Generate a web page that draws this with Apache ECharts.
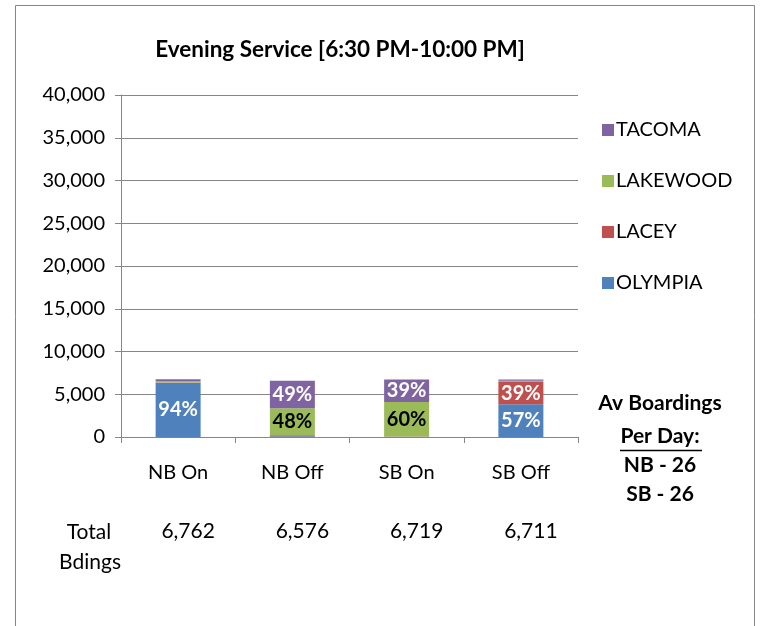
<!DOCTYPE html>
<html>
<head>
<meta charset="utf-8">
<script src="https://cdn.jsdelivr.net/npm/echarts@6/dist/echarts.min.js"></script>
<style>
  html, body { margin: 0; padding: 0; background: #fff; }
  #chart { width: 768px; height: 626px; }
</style>
</head>
<body>
<div id="chart"></div>
<script>
var categories = ["NB On", "NB Off", "SB On", "SB Off"];
var olympia = [6356, 90, 40, 3825];
var lacey = [30, 108, 28, 2617];
var lakewood = [150, 3156, 4031, 140];
var tacoma = [226, 3222, 2620, 129];
var olympiaPct = ["94%", "", "", "57%"];
var laceyPct = ["", "", "", "39%"];
var lakewoodPct = ["", "48%", "60%", ""];
var tacomaPct = ["", "49%", "39%", ""];
var yTicks = [0, 5000, 10000, 15000, 20000, 25000, 30000, 35000, 40000];

var font = "Lato, 'Open Sans', sans-serif";
var colors = {
  olympia: "#4f81bd",
  lacey: "#c0504d",
  lakewood: "#9bbb59",
  tacoma: "#8064a2",
  grid: "#868686"
};

function fmt(n) {
  return n.toString().replace(/\B(?=(\d{3})+(?!\d))/g, ",");
}

var totals = categories.map(function (c, i) {
  return olympia[i] + lacey[i] + lakewood[i] + tacoma[i];
});

function makeSeries(name, values, pcts, color, labelColor) {
  return {
    name: name,
    type: "bar",
    stack: "all",
    barWidth: 45,
    itemStyle: { color: color },
    label: {
      show: true,
      position: "inside",
      color: labelColor,
      fontFamily: font,
      fontWeight: "bold",
      fontSize: 20,
      formatter: function (p) {
        return pcts[p.dataIndex];
      }
    },
    data: values
  };
}

var chart = echarts.init(document.getElementById("chart"), null, { renderer: "canvas" });

chart.setOption({
  animation: false,
  backgroundColor: "#fff",
  title: {
    text: "Evening Service [6:30 PM-10:00 PM]",
    left: 335,
    textAlign: "center",
    top: 33,
    textStyle: { fontFamily: font, fontWeight: "bold", fontSize: 22.5, color: "#000" }
  },
  legend: {
    orient: "vertical",
    left: 597,
    top: 115,
    itemWidth: 12,
    itemHeight: 12,
    itemGap: 31,
    icon: "rect",
    data: ["TACOMA", "LAKEWOOD", "LACEY", "OLYMPIA"],
    textStyle: { fontFamily: font, fontSize: 20, color: "#000", padding: [0, 0, 0, -3] }
  },
  grid: { left: 121, right: 190, top: 95, bottom: 189 },
  xAxis: [
    {
      type: "category",
      data: categories,
      axisLine: { lineStyle: { color: colors.grid, width: 1 } },
      axisTick: { show: true, length: 6, lineStyle: { color: colors.grid } },
      axisLabel: { color: "#000", fontFamily: font, fontSize: 20, margin: 26 }
    },
    {
      type: "category",
      position: "bottom",
      offset: 84,
      data: totals.map(fmt),
      axisLine: { show: false },
      axisTick: { show: false },
      axisLabel: { color: "#000", fontFamily: font, fontSize: 21, margin: 0, padding: [0, 0, 0, 20] }
    }
  ],
  yAxis: {
    type: "value",
    min: yTicks[0],
    max: yTicks[yTicks.length - 1],
    interval: yTicks[1] - yTicks[0],
    axisLine: { show: true, lineStyle: { color: colors.grid } },
    axisTick: { show: true, length: 6, lineStyle: { color: colors.grid } },
    splitLine: { lineStyle: { color: colors.grid, width: 1 } },
    axisLabel: {
      color: "#000",
      fontFamily: font,
      fontSize: 20,
      margin: 16,
      formatter: function (v) { return fmt(v); }
    }
  },
  graphic: [
    {
      type: "rect",
      shape: { x: 15.5, y: 5.5, width: 739, height: 660 },
      style: { fill: "none", stroke: "#868686", lineWidth: 1 },
      silent: true,
      z: -1
    },
    {
      type: "text",
      x: 89,
      y: 532,
      style: { text: "Total", font: "21px " + font, fill: "#000", align: "center", verticalAlign: "middle" }
    },
    {
      type: "text",
      x: 90,
      y: 562,
      style: { text: "Bdings", font: "21px " + font, fill: "#000", align: "center", verticalAlign: "middle" }
    },
    {
      type: "text",
      x: 660,
      y: 403,
      style: { text: "Av Boardings", font: "bold 21px " + font, fill: "#000", align: "center", verticalAlign: "middle" }
    },
    {
      type: "text",
      x: 660,
      y: 436,
      style: { text: "Per Day:", font: "bold 21px " + font, fill: "#000", align: "center", verticalAlign: "middle" }
    },
    {
      type: "line",
      shape: { x1: 620, y1: 450.5, x2: 702, y2: 450.5 },
      style: { stroke: "#000", lineWidth: 1.5 }
    },
    {
      type: "text",
      x: 660,
      y: 465,
      style: { text: "NB - 26", font: "bold 21px " + font, fill: "#000", align: "center", verticalAlign: "middle" }
    },
    {
      type: "text",
      x: 660,
      y: 494,
      style: { text: "SB - 26", font: "bold 21px " + font, fill: "#000", align: "center", verticalAlign: "middle" }
    }
  ],
  series: [
    makeSeries("OLYMPIA", olympia, olympiaPct, colors.olympia, "#fff"),
    makeSeries("LACEY", lacey, laceyPct, colors.lacey, "#fff"),
    makeSeries("LAKEWOOD", lakewood, lakewoodPct, colors.lakewood, "#000"),
    makeSeries("TACOMA", tacoma, tacomaPct, colors.tacoma, "#fff")
  ]
});
</script>
</body>
</html>
